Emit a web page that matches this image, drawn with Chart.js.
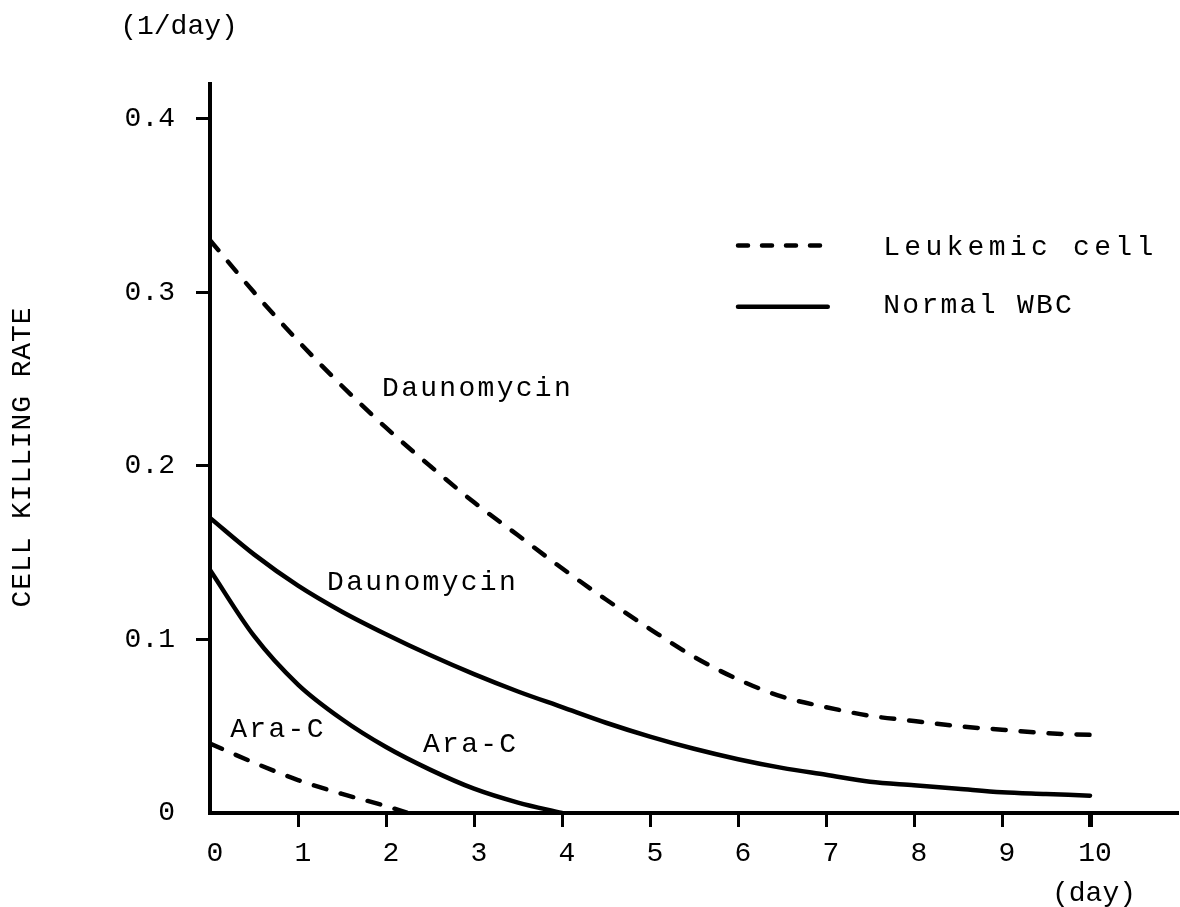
<!DOCTYPE html>
<html>
<head>
<meta charset="utf-8">
<title>Cell killing rate</title>
<script src="https://cdn.jsdelivr.net/npm/chart.js@4.4.1/dist/chart.umd.min.js"></script>
<style>
  html, body { margin: 0; padding: 0; background: #fff; }
  #wrap { width: 1180px; height: 907px; }
</style>
</head>
<body>
<div id="wrap"><canvas id="myChart"></canvas></div>
<script>
// days for the two Daunomycin curves
var days = [0, 0.5, 1, 1.5, 2, 2.5, 3, 3.5, 4, 4.5, 5, 5.5, 6, 6.5, 7, 7.5, 8, 8.5, 9, 9.5, 10];
var leukemicDauno = [0.330, 0.300, 0.272, 0.246, 0.222, 0.200, 0.179, 0.160, 0.141, 0.123, 0.106,
                     0.090, 0.077, 0.067, 0.061, 0.056, 0.053, 0.050, 0.048, 0.046, 0.045];
var normalDauno = [0.170, 0.149, 0.131, 0.116, 0.103, 0.091, 0.080, 0.070, 0.061, 0.052, 0.044,
                   0.037, 0.031, 0.026, 0.022, 0.018, 0.016, 0.014, 0.012, 0.011, 0.010];

// Ara-C curves are shorter
var daysNormalAra = [0, 0.5, 1, 1.5, 2, 2.5, 3, 3.5, 4];
var normalAra = [0.140, 0.102, 0.074, 0.054, 0.038, 0.025, 0.014, 0.006, 0.0];
var daysLeukemicAra = [0, 0.5, 1, 1.5, 2, 2.25];
var leukemicAra = [0.040, 0.029, 0.019, 0.011, 0.004, 0.0];

// tick labels
var xTickLabels = ['0', '1', '2', '3', '4', '5', '6', '7', '8', '9', '10'];
var yTickValues = [0, 0.1, 0.2, 0.3, 0.4];
var yTickLabels = ['0', '0.1', '0.2', '0.3', '0.4'];

var FONT = '"Liberation Mono", "DejaVu Sans Mono", monospace';
var DASH = [13, 15];

function toPoints(xs, ys) {
  return xs.map(function (x, i) { return { x: x, y: ys[i] }; });
}

function curve(label, xs, ys, dashed) {
  return {
    label: label,
    data: toPoints(xs, ys),
    borderColor: '#000',
    borderWidth: 4.5,
    borderDash: dashed ? DASH : [],
    borderCapStyle: 'round',
    borderJoinStyle: 'round',
    pointRadius: 0,
    fill: false,
    cubicInterpolationMode: 'monotone'
  };
}

// text written on the plot, placed in data units
var notes = [
  { text: 'Daunomycin', day: 1.955, rate: 0.240, spacing: 2.3 },
  { text: 'Daunomycin', day: 1.33, rate: 0.1285, spacing: 2.3 },
  { text: 'Ara-C', day: 0.23, rate: 0.0438, spacing: 2.3 },
  { text: 'Ara-C', day: 2.42, rate: 0.0352, spacing: 2.3 }
];

// legend entries
var legendItems = [
  { text: 'Leukemic cell', dashed: true, lineRate: 0.327, textRate: 0.3216, spacing: 4.3 },
  { text: 'Normal WBC', dashed: false, lineRate: 0.2916, textRate: 0.288, spacing: 2.3 }
];

var textPlugin = {
  id: 'textPlugin',
  afterDraw: function (chart) {
    var ctx = chart.ctx;
    var xs = chart.scales.x, ys = chart.scales.y;
    var area = chart.chartArea;
    ctx.save();
    ctx.fillStyle = '#000';
    ctx.font = '28px ' + FONT;
    ctx.textBaseline = 'alphabetic';
    ctx.textAlign = 'left';

    notes.forEach(function (n) {
      ctx.letterSpacing = n.spacing + 'px';
      ctx.fillText(n.text, xs.getPixelForValue(n.day), ys.getPixelForValue(n.rate));
    });

    // legend
    var x0 = xs.getPixelForValue(6.0), x1 = xs.getPixelForValue(7.02);
    legendItems.forEach(function (item) {
      var ly = ys.getPixelForValue(item.lineRate);
      ctx.beginPath();
      ctx.lineWidth = 4.5;
      ctx.lineCap = 'round';
      ctx.strokeStyle = '#000';
      ctx.setLineDash(item.dashed ? [10, 14] : []);
      ctx.moveTo(x0, ly);
      ctx.lineTo(x1, ly);
      ctx.stroke();
      ctx.letterSpacing = item.spacing + 'px';
      ctx.fillText(item.text, xs.getPixelForValue(7.65), ys.getPixelForValue(item.textRate));
    });
    ctx.setLineDash([]);

    // unit labels
    ctx.textAlign = 'center';
    ctx.textBaseline = 'middle';
    ctx.letterSpacing = '0px';
    ctx.fillText('(1/day)', area.left - 31, 27);
    ctx.fillText('(day)', xs.getPixelForValue(10) + 4, 894);

    // y axis title
    ctx.translate(23, 457);
    ctx.rotate(-Math.PI / 2);
    ctx.letterSpacing = '0.9px';
    ctx.fillText('CELL KILLING RATE', 0, 0);
    ctx.restore();
  }
};

var ctx = document.getElementById('myChart').getContext('2d');
var myChart = new Chart(ctx, {
  type: 'line',
  data: {
    datasets: [
      curve('Leukemic cell - Daunomycin', days, leukemicDauno, true),
      curve('Normal WBC - Daunomycin', days, normalDauno, false),
      curve('Normal WBC - Ara-C', daysNormalAra, normalAra, false),
      curve('Leukemic cell - Ara-C', daysLeukemicAra, leukemicAra, true)
    ]
  },
  options: {
    responsive: true,
    maintainAspectRatio: false,
    devicePixelRatio: 1,
    animation: false,
    layout: { padding: { top: 84, right: 2, left: 0, bottom: 0 } },
    plugins: {
      legend: { display: false },
      tooltip: { enabled: false }
    },
    scales: {
      x: {
        type: 'linear',
        min: 0,
        max: 11,
        afterFit: function (scale) { scale.height = 94; },
        border: { color: '#000', width: 4 },
        grid: {
          drawOnChartArea: false,
          drawTicks: true,
          tickLength: 14,
          tickWidth: function (c) { return c.tick && c.tick.value === 10 ? 5 : 3; },
          color: '#000',
          tickColor: function (c) { return c.tick && c.tick.value === 0 ? 'rgba(0,0,0,0)' : '#000'; }
        },
        ticks: {
          stepSize: 1,
          includeBounds: false,
          padding: 10,
          labelOffset: 5,
          maxRotation: 0,
          autoSkip: false,
          color: '#000',
          font: { family: FONT, size: 28 },
          callback: function (value) {
            var label = xTickLabels[value];
            return label === undefined ? null : label;
          }
        }
      },
      y: {
        type: 'linear',
        min: 0,
        max: 0.42,
        afterFit: function (scale) { scale.width = 210; },
        border: { color: '#000', width: 4 },
        grid: {
          drawOnChartArea: false,
          drawTicks: true,
          tickLength: 14,
          tickWidth: 3,
          color: '#000',
          tickColor: function (c) { return c.tick && c.tick.value === 0 ? 'rgba(0,0,0,0)' : '#000'; }
        },
        ticks: {
          stepSize: 0.1,
          includeBounds: false,
          padding: 21,
          color: '#000',
          font: { family: FONT, size: 28 },
          callback: function (value) {
            for (var i = 0; i < yTickValues.length; i++) {
              if (Math.abs(yTickValues[i] - value) < 1e-6) return yTickLabels[i];
            }
            return null;
          }
        }
      }
    }
  },
  plugins: [textPlugin]
});
</script>
</body>
</html>
